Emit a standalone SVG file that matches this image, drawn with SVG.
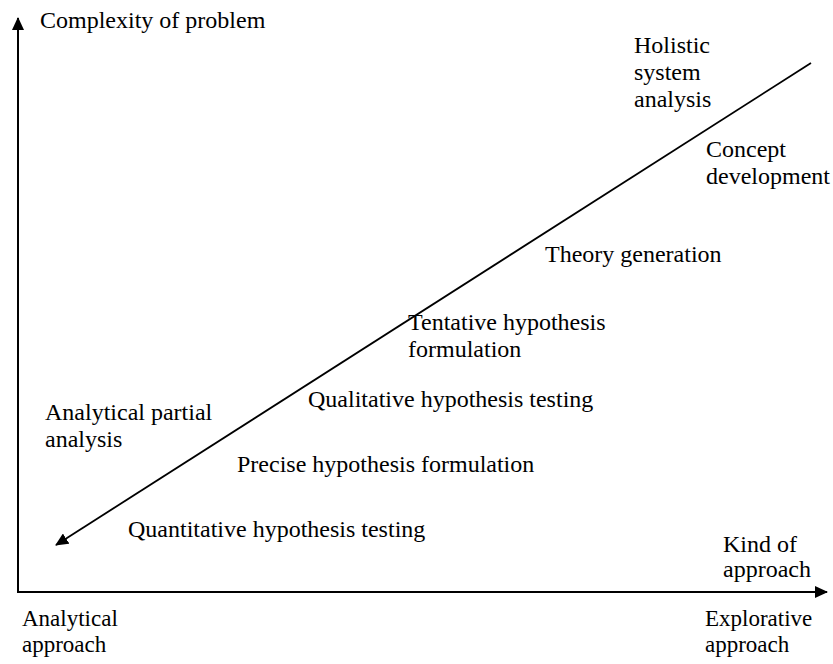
<svg xmlns="http://www.w3.org/2000/svg" width="833" height="664" viewBox="0 0 833 664">
  <style>
    text { font-family: "Liberation Serif", "Times New Roman", serif; font-size: 24px; fill: #000; }
    text.end { font-size: 23px; }
    .axis { stroke: #000; stroke-width: 2; fill: none; }
    .trend { stroke: #000; stroke-width: 1.8; fill: none; }
  </style>
  <defs>
    <marker id="head" viewBox="0 0 13 12" refX="12" refY="6" markerWidth="13" markerHeight="12" markerUnits="userSpaceOnUse" orient="auto">
      <path d="M0,0 L13,6 L0,12 Z" fill="#000"/>
    </marker>
  </defs>
  <rect width="833" height="664" fill="#fff"/>

  <g id="connectors">
    <!-- vertical axis: complexity -->
    <path class="axis" d="M18,592 L18,18" marker-end="url(#head)"/>
    <!-- horizontal axis: kind of approach -->
    <path class="axis" d="M17,592 L827,592" marker-end="url(#head)"/>
    <!-- diagonal continuum from holistic to analytical -->
    <path class="trend" d="M811,63 L56,545" marker-end="url(#head)"/>
  </g>

  <g id="y-axis-label"><text x="40" y="28">Complexity of problem</text></g>
  <g id="x-axis-label"><text x="723" y="552">Kind of</text><text x="723" y="577">approach</text></g>
  <g id="analytical-approach"><text class="end" x="22" y="626">Analytical</text><text class="end" x="22" y="652">approach</text></g>
  <g id="explorative-approach"><text class="end" x="705" y="626">Explorative</text><text class="end" x="705" y="652">approach</text></g>

  <g id="holistic"><text x="634" y="53">Holistic</text><text x="634" y="80">system</text><text x="634" y="107">analysis</text></g>
  <g id="concept"><text x="706" y="157">Concept</text><text x="706" y="184">development</text></g>
  <g id="theory"><text x="545" y="262">Theory generation</text></g>
  <g id="tentative"><text x="408" y="330">Tentative hypothesis</text><text x="408" y="357">formulation</text></g>
  <g id="qualitative"><text x="308" y="407">Qualitative hypothesis testing</text></g>
  <g id="partial"><text x="45" y="420">Analytical partial</text><text x="45" y="447">analysis</text></g>
  <g id="precise"><text x="237" y="472">Precise hypothesis formulation</text></g>
  <g id="quantitative"><text x="128" y="537">Quantitative hypothesis testing</text></g>
</svg>
